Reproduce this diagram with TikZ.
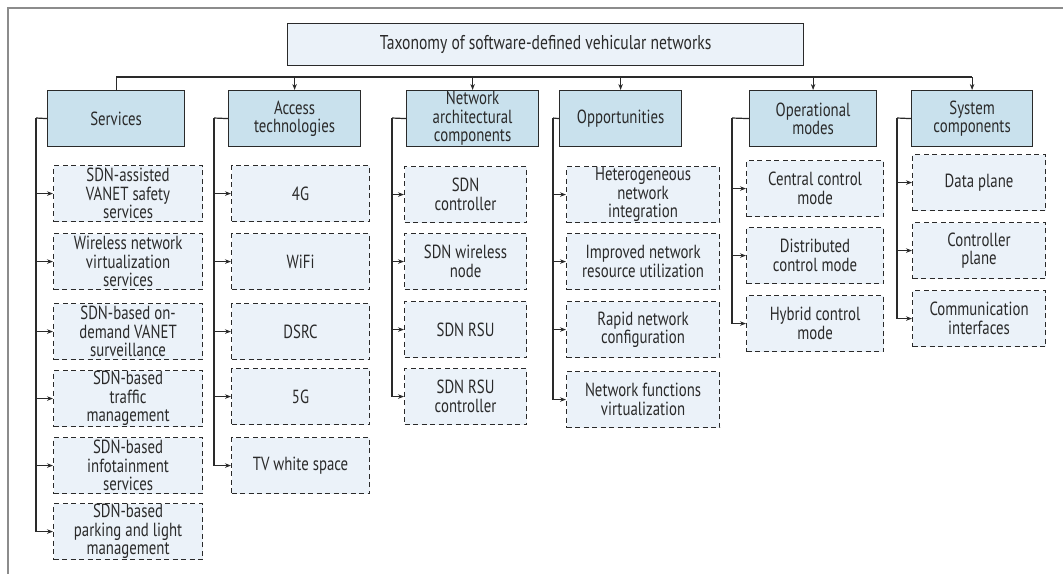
\documentclass[tikz,border=0pt]{standalone}
\usepackage{fontspec}
\setmainfont{PT Sans}[FakeStretch=0.78]
\usetikzlibrary{arrows.meta,calc}
\definecolor{catfill}{HTML}{C9E1ED}
\definecolor{leaffill}{HTML}{EBF2F9}
\definecolor{ink}{HTML}{2A2A2A}
\definecolor{framegray}{HTML}{8C8C8C}

\begin{document}
\begin{tikzpicture}[x=1pt,y=-1pt,
  every node/.style={font=\fontsize{19}{18.5}\selectfont, text=ink, align=center,
                     inner sep=0pt, anchor=north west},
  titlebox/.style={draw=ink, line width=1.2pt, fill=leaffill, minimum height=42pt,
                   font=\fontsize{20}{20}\selectfont},
  catbox/.style={draw=ink, line width=1.2pt, fill=catfill, minimum height=56pt},
  leafbox/.style={draw=ink, line width=1.1pt, dash pattern=on 5pt off 3.5pt,
                  fill=leaffill, minimum height=56pt},
  link/.style={draw=ink, line width=1.2pt},
  feed/.style={link, -{Stealth[length=6pt,width=4.5pt]}},
]
\useasboundingbox (0,0) rectangle (1063,574);

% partial frame (top and left edges)
\draw[framegray, line width=1.8pt] (1063,8) -- (8,8) -- (8,574);

% root
\node[titlebox, minimum width=516pt] (root) at (287,23)
  {Taxonomy of software-defined vehicular networks};

% categories
\node[catbox, minimum width=137pt] (svc) at (47,90)  {Services};
\node[catbox, minimum width=132pt] (acc) at (228,90) {Access\\technologies};
\node[catbox, minimum width=132pt] (net) at (406,90) {Network\\architectural\\components};
\node[catbox, minimum width=122pt] (opp) at (559,90) {Opportunities};
\node[catbox, minimum width=127pt] (ops) at (749,90) {Operational\\modes};
\node[catbox, minimum width=121pt] (sys) at (911,90) {System\\components};

% bus to categories
\coordinate (bus) at (0,77);
\draw[link] (svc.north) -- (svc.north |- bus) -- (sys.north |- bus);
\foreach \c in {acc,net,opp,ops,sys}
  \draw[feed] (\c.north |- bus) -- (\c.north);

% Services
\node[leafbox, minimum width=149pt] (s1) at (53,165) {SDN-assisted\\VANET safety\\services};
\node[leafbox, minimum width=149pt] (s2) at (53,233) {Wireless network\\virtualization\\services};
\node[leafbox, minimum width=149pt] (s3) at (53,303) {SDN-based on-\\demand VANET\\surveillance};
\node[leafbox, minimum width=149pt] (s4) at (53,370) {SDN-based\\traffic\\management};
\node[leafbox, minimum width=149pt] (s5) at (53,437) {SDN-based\\infotainment\\services};
\node[leafbox, minimum width=149pt] (s6) at (53,503) {SDN-based\\parking and light\\management};

% Access technologies
\node[leafbox, minimum width=138pt] (a1) at (231,165) {4G};
\node[leafbox, minimum width=138pt] (a2) at (231,233) {WiFi};
\node[leafbox, minimum width=138pt] (a3) at (231,303) {DSRC};
\node[leafbox, minimum width=138pt] (a4) at (231,368) {5G};
\node[leafbox, minimum width=138pt] (a5) at (231,437) {TV white space};

% Network architectural components
\node[leafbox, minimum width=122pt] (n1) at (404,166) {SDN\\controller};
\node[leafbox, minimum width=122pt] (n2) at (404,233) {SDN wireless\\node};
\node[leafbox, minimum width=122pt] (n3) at (404,301) {SDN RSU};
\node[leafbox, minimum width=122pt] (n4) at (404,368) {SDN RSU\\controller};

% Opportunities
\node[leafbox, minimum width=153pt] (o1) at (566,166) {Heterogeneous\\network\\integration};
\node[leafbox, minimum width=153pt] (o2) at (566,233) {Improved network\\resource utilization};
\node[leafbox, minimum width=153pt] (o3) at (566,301) {Rapid network\\configuration};
\node[leafbox, minimum width=153pt] (o4) at (566,371) {Network functions\\virtualization};

% Operational modes
\node[leafbox, minimum width=137pt] (m1) at (746,160) {Central control\\mode};
\node[leafbox, minimum width=137pt] (m2) at (746,227) {Distributed\\control mode};
\node[leafbox, minimum width=137pt] (m3) at (746,295) {Hybrid control\\mode};

% System components
\node[leafbox, minimum width=133pt] (c1) at (912,154) {Data plane};
\node[leafbox, minimum width=133pt] (c2) at (912,222) {Controller\\plane};
\node[leafbox, minimum width=133pt] (c3) at (912,290) {Communication\\interfaces};

% trunks from each category down to its items
\coordinate (svcT) at (36,118);
\coordinate (accT) at (214,118);
\coordinate (netT) at (392,118);
\coordinate (oppT) at (553,118);
\coordinate (opsT) at (732,118);
\coordinate (sysT) at (897,118);

\draw[link] (svc.west) -- (svcT);
\draw[link] (acc.west) -- (accT);
\draw[link] (net.west) -- (netT);
\draw[link] (opp.west) -- (oppT);
\draw[link] (ops.west) -- (opsT);
\draw[link] (sys.west) -- (sysT);

\foreach \k in {s1,s2,s3,s4,s5,s6} \draw[feed] (svcT) |- (\k.west);
\foreach \k in {a1,a2,a3,a4,a5} \draw[feed] (accT) |- (\k.west);
\foreach \k in {n1,n2,n3,n4} \draw[feed] (netT) |- (\k.west);
\foreach \k in {o1,o2,o3,o4} \draw[feed] (oppT) |- (\k.west);
\foreach \k in {m1,m2,m3} \draw[feed] (opsT) |- (\k.west);
\foreach \k in {c1,c2,c3} \draw[feed] (sysT) |- (\k.west);
\end{tikzpicture}
\end{document}
